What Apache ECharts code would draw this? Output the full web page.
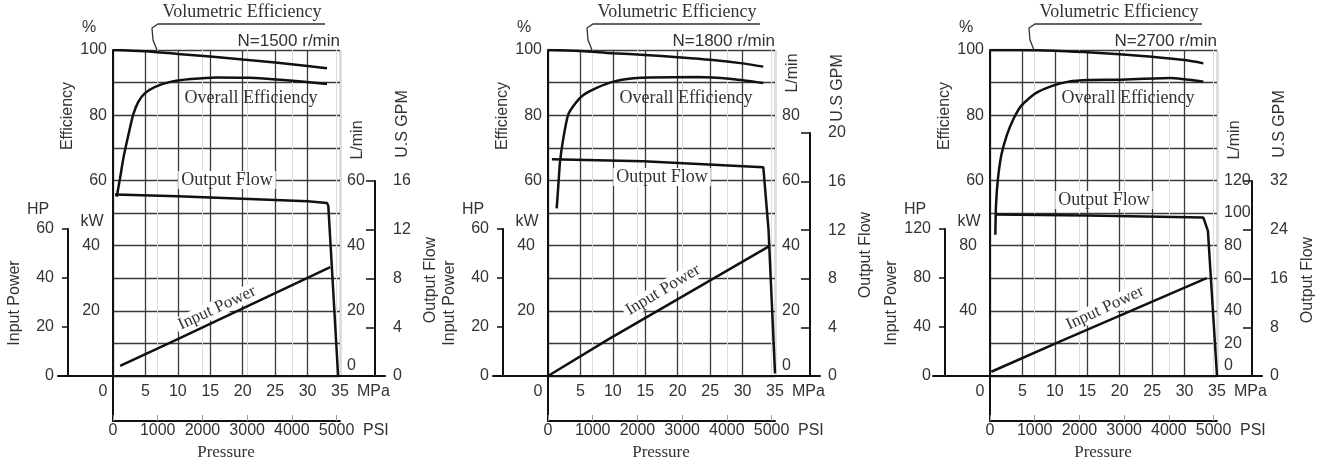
<!DOCTYPE html>
<html>
<head>
<meta charset="utf-8">
<script src="https://cdn.jsdelivr.net/npm/echarts@6/dist/echarts.min.js"></script>
<style>
  html, body { margin: 0; padding: 0; background: #fff; }
  #chart { width: 1320px; height: 470px; }
</style>
</head>
<body>
<div id="chart"></div>
<script>
// readings, x = pressure in MPa
const speedLabels = ['N=1500 r/min', 'N=1800 r/min', 'N=2700 r/min']

const volEff1500 = [[0, 100], [5, 99.6], [10, 98.8], [15, 98], [20, 97.1], [25, 96.2], [30, 95.1], [33, 94.4]]
const overall1500 = [[0.57, 55], [1.08, 60.6], [1.6, 66.8], [2.37, 73.9], [3.1, 80.1], [3.9, 84.1], [4.9, 86.7], [6.5, 88.7], [9, 90.3], [12, 91.1], [16, 91.6], [21, 91.5], [26.3, 90.8], [33, 89.6]]
const flow1500 = [[0.3, 55.7], [10, 55.1], [20, 54.4], [30, 53.6], [33, 53.1], [33.2, 52.1], [33.5, 41.8], [34.7, 0.3]]
const power1500 = [[1.1, 3.1], [9.9, 11.2], [33.5, 33.4]]

const volEff1800 = [[0, 100], [5, 99.7], [10, 99], [15, 98.5], [20, 97.8], [25, 97], [30, 95.9], [33.2, 94.9]]
const overall1800 = [[1.34, 51.4], [1.6, 58.6], [1.85, 65.7], [2.36, 72.9], [3.1, 80.1], [4.2, 83.6], [5.45, 86.2], [7.5, 88.4], [10.1, 90.3], [13.2, 91.3], [15.7, 91.6], [23, 91.7], [28, 91.2], [33.2, 89.9]]
const flow1800 = [[0.6, 66.5], [14.7, 65.9], [33.2, 64], [34, 44.9], [35, 0.8]]
const power1800 = [[0, 0], [9.1, 11], [34, 39.7]]

const volEff2700 = [[0, 100], [5, 100], [10, 99.8], [15, 99.3], [20, 98.7], [25, 97.9], [30, 96.9], [32.9, 95.9]]
const overall2700 = [[0.82, 43.3], [0.93, 52.5], [1.23, 60.6], [1.75, 67.8], [2.6, 73.9], [3.65, 79], [4.9, 83.1], [7, 86.7], [9.6, 89], [12.1, 90.3], [15.2, 90.8], [20, 90.9], [27.8, 91.4], [32.9, 90.3]]
const flow2700 = [[0.8, 99.1], [15, 98.5], [32.9, 97.2], [33.6, 89], [35, 0]]
const power2700 = [[0.2, 2.6], [10.3, 20.3], [33.4, 60.1]]

const volEff = [volEff1500, volEff1800, volEff2700]
const overall = [overall1500, overall1800, overall2700]
const flow = [flow1500, flow1800, flow2700]
const power = [power1500, power1800, power2700]

// axis scales per panel
const mpaMax = 35
const psiPerMpa = 145.038
const kwMax = [100, 100, 200]
const kwStep = [20, 20, 40]
const kwLabelMax = [40, 40, 80]
const hpMax = [60, 60, 120]
const hpStep = [20, 20, 40]
const flowMax = [100, 100, 200]
const flowLabelMax = [60, 80, 120]
const gpmMax = [16, 20, 32]
const gpmStep = [4, 4, 8]

// layout
const panelLeft = [113, 548, 990]
const plotTop = 50
const plotH = 326
const plotW = 227
const gpmTop = [181, 133, 181]

const ink = '#111'
const textColor = '#333'
const sans = 'Liberation Sans'
const serif = 'Liberation Serif'
const tickLabel = { color: textColor, fontSize: 16, fontFamily: sans }

const grid = [], xAxis = [], yAxis = [], series = [], graphic = []

function txt(x, y, text, opt = {}) {
  graphic.push({
    type: 'text',
    x, y,
    rotation: opt.rotation || 0,
    z: 100,
    style: {
      text,
      fill: textColor,
      fontSize: opt.size || 16,
      fontFamily: opt.font || sans,
      align: opt.align || 'center',
      verticalAlign: 'middle',
      backgroundColor: opt.bg,
      padding: opt.bg ? [0, 3] : 0
    }
  })
}

function curve(data, yIdx, xIdx, smooth) {
  return {
    type: 'line',
    data,
    xAxisIndex: xIdx,
    yAxisIndex: yIdx,
    showSymbol: false,
    smooth: smooth || false,
    lineStyle: { color: ink, width: 2.5 },
    z: 5
  }
}

const hidden = { show: false }

speedLabels.forEach((speed, i) => {
  const L = panelLeft[i]

  // main plot
  const gMain = grid.length
  grid.push({ left: L, top: plotTop, width: plotW, height: plotH })
  const xMpa = xAxis.length
  xAxis.push({
    type: 'value', gridIndex: gMain, min: 0, max: mpaMax, interval: 5,
    axisLine: hidden, axisTick: hidden,
    splitLine: { show: true, lineStyle: { color: '#3a3a3a', width: 1.3 } },
    axisLabel: {
      ...tickLabel, margin: 8,
      formatter: v => v === 0 ? '{z|0}' : String(v),
      rich: { z: { ...tickLabel, padding: [0, 20, 0, 0] } }
    }
  })
  // faint PSI lines behind the grid
  xAxis.push({
    type: 'value', gridIndex: gMain, min: 0, max: mpaMax * psiPerMpa, interval: 1000,
    axisLine: hidden, axisTick: hidden, axisLabel: hidden,
    splitLine: { show: true, lineStyle: { color: '#dcdcdc', width: 1 } }
  })
  const yEff = yAxis.length
  yAxis.push({
    type: 'value', gridIndex: gMain, min: 0, max: 100, interval: 10,
    axisLine: { show: true, lineStyle: { color: ink, width: 2 } },
    axisTick: hidden,
    splitLine: { show: true, lineStyle: { color: '#3a3a3a', width: 1.3 } },
    axisLabel: { ...tickLabel, margin: 6, formatter: v => (v >= 60 && v % 20 === 0) ? String(v) : '' }
  })
  const yKw = yAxis.length
  yAxis.push({
    type: 'value', gridIndex: gMain, position: 'left', min: 0, max: kwMax[i], interval: kwStep[i],
    axisLine: hidden, axisTick: hidden, splitLine: hidden,
    axisLabel: { ...tickLabel, margin: 13, formatter: v => (v > 0 && v <= kwLabelMax[i]) ? String(v) : '' }
  })
  const yFlow = yAxis.length
  yAxis.push({
    type: 'value', gridIndex: gMain, position: 'right', min: 0, max: flowMax[i], interval: 20,
    axisLine: hidden, axisTick: hidden, splitLine: hidden,
    axisLabel: {
      ...tickLabel, margin: 7,
      formatter: v => v === 0 ? '{z|0}' : (v <= flowLabelMax[i] ? String(v) : ''),
      rich: { z: { ...tickLabel, padding: [0, 0, 20, 0] } }
    }
  })

  // long MPa base line
  const gBase = grid.length
  const baseLeft = i === 2 ? L - 57 : L - 55
  grid.push({ left: baseLeft, top: plotTop, width: L + 272 - baseLeft, height: plotH })
  xAxis.push({
    type: 'value', gridIndex: gBase, min: 0, max: 1,
    axisLine: { show: true, lineStyle: { color: ink, width: 2 } },
    axisTick: hidden, axisLabel: hidden, splitLine: hidden
  })
  yAxis.push({ type: 'value', gridIndex: gBase, show: false })

  // HP axis
  const gHp = grid.length
  grid.push({ left: L - 45, top: 229, width: 10, height: 376 - 229 })
  xAxis.push({ type: 'value', gridIndex: gHp, show: false })
  yAxis.push({
    type: 'value', gridIndex: gHp, position: 'left', min: 0, max: hpMax[i], interval: hpStep[i],
    axisLine: { show: true, lineStyle: { color: ink, width: 2 } },
    axisTick: { show: true, length: 6, lineStyle: { color: ink, width: 1.5 } },
    splitLine: hidden,
    axisLabel: { ...tickLabel, margin: 14 }
  })

  // GPM axis
  const gGpm = grid.length
  grid.push({ left: L + 262, top: gpmTop[i], width: 10, height: 376 - gpmTop[i] })
  xAxis.push({ type: 'value', gridIndex: gGpm, show: false })
  yAxis.push({
    type: 'value', gridIndex: gGpm, position: 'right', min: 0, max: gpmMax[i], interval: gpmStep[i],
    axisLine: { show: true, lineStyle: { color: ink, width: 2 } },
    axisTick: { show: true, inside: true, length: 9, lineStyle: { color: ink, width: 1.5 } },
    splitLine: hidden,
    axisLabel: { ...tickLabel, margin: 8 }
  })

  // PSI axis below
  const gPsi = grid.length
  grid.push({ left: L, top: 376, width: plotW, height: 45 })
  xAxis.push({
    type: 'value', gridIndex: gPsi, min: 0, max: mpaMax * psiPerMpa, interval: 1000,
    axisLine: { show: true, lineStyle: { color: ink, width: 2 } },
    axisTick: { show: true, inside: true, length: 6, lineStyle: { color: '#999', width: 1 } },
    splitLine: hidden,
    axisLabel: { ...tickLabel, margin: 2, showMaxLabel: false, formatter: v => v % 1000 === 0 ? String(v) : '' }
  })
  yAxis.push({
    type: 'value', gridIndex: gPsi, min: 0, max: 1,
    axisLine: { show: true, lineStyle: { color: ink, width: 2 } },
    axisTick: hidden, axisLabel: hidden, splitLine: hidden
  })

  series.push(curve(volEff[i], yEff, xMpa, 0.3))
  series.push(curve(overall[i], yEff, xMpa, 0.2))
  series.push(curve(flow[i], yFlow, xMpa, false))
  series.push(curve(power[i], yKw, xMpa, false))

  // axis captions and curve labels
  txt(L - 24, 28, '%')
  txt(L - 45, 116, 'Efficiency', { rotation: Math.PI / 2 })
  txt(L - 75, 210, 'HP')
  txt(L - 21, 222, 'kW')
  txt(L - 98, 303, 'Input Power', { rotation: Math.PI / 2 })
  txt(L + 245, i === 1 ? 73 : 140, 'L/min', { rotation: Math.PI / 2 })
  txt(L + 290, i === 1 ? 88 : 124, 'U.S GPM', { rotation: Math.PI / 2 })
  txt(L + 318, i === 1 ? 255 : 280, 'Output Flow', { rotation: Math.PI / 2 })
  txt(L + 244, 392, 'MPa', { align: 'left' })
  txt(L + 250, 431, 'PSI', { align: 'left' })
  txt(L + 113, 453, 'Pressure', { font: serif, size: 17 })
  txt(L + 129, 12, 'Volumetric Efficiency', { font: serif, size: 18 })
  txt(L + plotW, 41, speed, { align: 'right', size: 17 })
  txt(L + 138, 98, 'Overall Efficiency', { font: serif, size: 18 })
  txt(L + 114, [180, 177, 200][i], 'Output Flow', { font: serif, size: 18, bg: '#fff' })
  txt([L + 104, L + 115, L + 115][i], [308, 290, 308][i], 'Input Power',
    { font: serif, size: 17, bg: '#fff', rotation: [25, 31, 25][i] * Math.PI / 180 })

  // underline and leader for the volumetric efficiency caption
  graphic.push({
    type: 'polyline', z: 100,
    shape: { points: [[L + 212, 24], [L + 45, 24], [L + 39, 28], [L + 40, 40], [L + 44, 50]] },
    style: { stroke: '#333', lineWidth: 1.3, fill: null }
  })
})

const chart = echarts.init(document.getElementById('chart'))
chart.setOption({
  animation: false,
  backgroundColor: '#fff',
  grid, xAxis, yAxis, series, graphic
})
</script>
</body>
</html>
